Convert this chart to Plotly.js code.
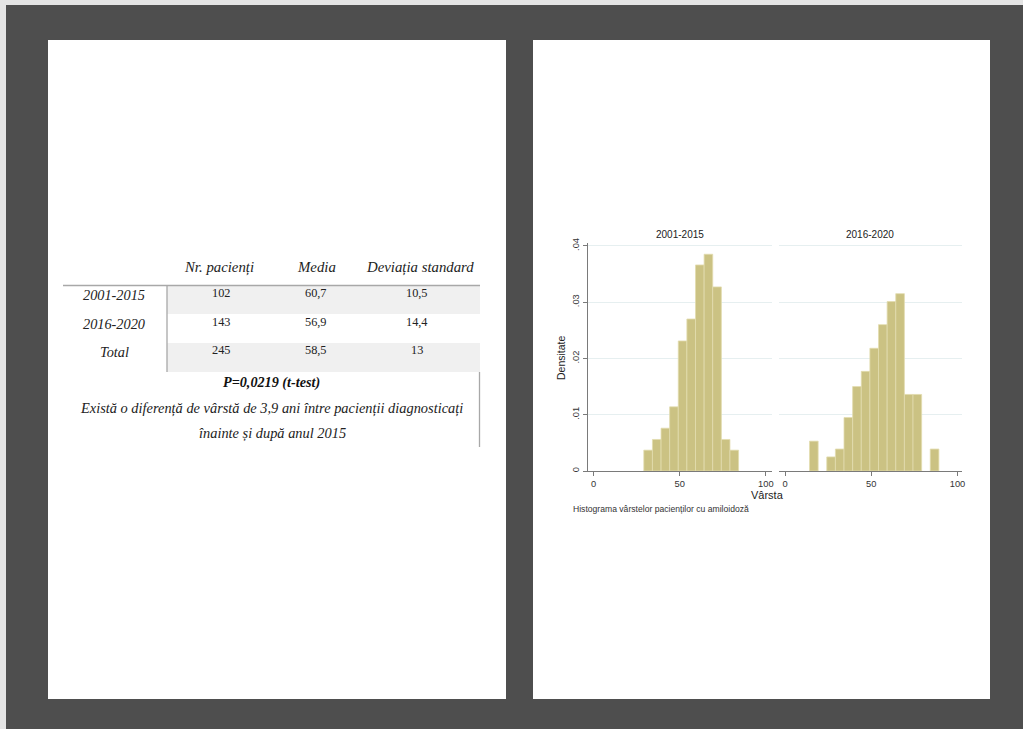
<!DOCTYPE html>
<html><head><meta charset="utf-8">
<script src="https://cdn.plot.ly/plotly-3.0.1.min.js"></script>
<style>html,body{margin:0;padding:0;background:#4e4e4e;overflow:hidden}#chart{width:1023px;height:729px}</style>
</head><body><div id="chart"></div>
<script>
// ---- table data (left page) ----
const tableColumns = ['Nr. pacienți', 'Media', 'Deviația standard'];
const tableRows = ['2001-2015', '2016-2020', 'Total'];
const nrPacienti = ['102', '143', '245'];
const media = ['60,7', '56,9', '58,5'];
const deviatia = ['10,5', '14,4', '13'];
const pText = 'P=0,0219 (t-test)';
const noteLines = ['Există o diferență de vârstă de 3,9 ani între pacienții diagnosticați', 'înainte și după anul 2015'];

// ---- histogram data (right page) ----
const panelTitles = ['2001-2015', '2016-2020'];
const binWidth = 5;
const binStart1 = [29.2, 34.2, 39.2, 44.2, 49.2, 54.2, 59.2, 64.2, 69.2, 74.2, 79.2];
const density1 = [0.0037, 0.0056, 0.0076, 0.0114, 0.0231, 0.0270, 0.0366, 0.0385, 0.0327, 0.0056, 0.0037];
const binStart2 = [14.2, 24.2, 29.2, 34.2, 39.2, 44.2, 49.2, 54.2, 59.2, 64.2, 69.2, 74.2, 84.2];
const density2 = [0.0053, 0.0025, 0.0039, 0.0095, 0.0150, 0.0177, 0.0218, 0.0260, 0.0301, 0.0315, 0.0136, 0.0136, 0.0039];
const yTickVals = [0, 0.01, 0.02, 0.03, 0.04];
const yTickText = ['0', '.01', '.02', '.03', '.04'];
const xTickVals = [0, 50, 100];
const xTickText = ['0', '50', '100'];
const yAxisTitle = 'Densitate';
const xAxisTitle = 'Vârsta';
const caption = 'Histograma vârstelor pacienților cu amiloidoză';

// ---- helpers: pixel -> paper ----
const W = 1023, H = 729;
const X = p => p / W;
const Y = p => 1 - p / H;

const shapes = [];
function rect(x0, y0, x1, y1, color, line) {
  shapes.push({type: 'rect', xref: 'paper', yref: 'paper', x0: X(x0), x1: X(x1), y0: Y(y1), y1: Y(y0),
    fillcolor: color, line: line || {width: 0}, layer: 'below'});
}
function seg(x0, y0, x1, y1, color, w) {
  shapes.push({type: 'line', xref: 'paper', yref: 'paper', x0: X(x0), x1: X(x1), y0: Y(y0), y1: Y(y1),
    line: {color: color, width: w}, layer: 'below'});
}
// background strips and pages
rect(0, 0, W, 5, '#e4e4e4');
rect(0, 0, 6, H, '#e4e4e4');
rect(48, 40, 506, 699, '#ffffff');
rect(533, 40, 990, 699, '#ffffff');

// table shading and lines
rect(167, 286, 480, 314, '#f0f0f0');
rect(167, 343, 480, 372, '#f0f0f0');
seg(63, 285.5, 480, 285.5, '#a8a8a8', 1.3);
seg(167, 286, 167, 372, '#a8a8a8', 1.3);
seg(479.5, 372, 479.5, 447, '#a8a8a8', 1.3);

const annotations = [];
function txt(x, y, t, size, family, color, extra) {
  annotations.push(Object.assign({xref: 'paper', yref: 'paper', x: X(x), y: Y(y), text: t, showarrow: false,
    xanchor: 'center', yanchor: 'middle', font: {size: size, family: family, color: color || '#111'}}, extra || {}));
}
const serif = 'Liberation Serif, Times New Roman, serif';
const sans = 'Liberation Sans, Arial, sans-serif';
const colX = [219, 316, 420];
tableColumns.forEach((c, i) => txt(colX[i], 267, '<i>' + c + '</i>', 14.8, serif, '#222'));
const rowY = [295, 324, 352];
tableRows.forEach((r, i) => txt(114, rowY[i], '<i>' + r + '</i>', 14.3, serif, '#222'));
const valY = [293, 322, 350];
const valX = [221, 316, 417];
[nrPacienti, media, deviatia].forEach((col, j) => col.forEach((v, i) => txt(valX[j], valY[i], v, 12.3, serif, '#222')));
txt(271, 382, '<b><i>' + pText + '</i></b>', 14.2, serif, '#111');
txt(271, 408, '<i>' + noteLines[0] + '</i>', 14.4, serif, '#222');
txt(272, 433, '<i>' + noteLines[1] + '</i>', 14.4, serif, '#222');

// chart text
txt(680, 234, panelTitles[0], 10, sans, '#222');
txt(870, 234, panelTitles[1], 10, sans, '#222');
txt(561, 358, yAxisTitle, 10.5, sans, '#222', {textangle: -90});
txt(767, 495, xAxisTitle, 11, sans, '#222');
txt(571, 509, caption, 8.6, sans, '#333', {xanchor: 'left'});

const barColor = '#cbc283';
const barLine = {color: '#e2dcae', width: 0.8};
const traces = [
  {type: 'bar', x: binStart1, y: density1, width: binWidth, offset: 0, xaxis: 'x', yaxis: 'y',
   marker: {color: barColor, line: barLine}, hoverinfo: 'x+y'},
  {type: 'bar', x: binStart2, y: density2, width: binWidth, offset: 0, xaxis: 'x2', yaxis: 'y2',
   marker: {color: barColor, line: barLine}, hoverinfo: 'x+y'}
];

const axisCommon = {ticks: 'outside', ticklen: 4, tickcolor: '#7a7a7a', showline: true, linecolor: '#7a7a7a', linewidth: 1,
  zeroline: false, tickfont: {size: 9.3, family: sans, color: '#333'}};
const yRange = [0, 0.0405];
const yDomain = [Y(471), Y(243)];
const layout = {
  width: W, height: H, margin: {l: 0, r: 0, t: 0, b: 0},
  paper_bgcolor: '#4e4e4e', plot_bgcolor: 'rgba(0,0,0,0)', showlegend: false, bargap: 0,
  xaxis: Object.assign({}, axisCommon, {domain: [X(588), X(772)], range: [-3.2, 103.6], tickvals: xTickVals, ticktext: xTickText, showgrid: false, anchor: 'y'}),
  xaxis2: Object.assign({}, axisCommon, {domain: [X(779), X(962)], range: [-3.5, 102.6], tickvals: xTickVals, ticktext: xTickText, showgrid: false, anchor: 'y2'}),
  yaxis: Object.assign({}, axisCommon, {domain: yDomain, range: yRange, tickvals: yTickVals, ticktext: yTickText, tickangle: -90,
    showgrid: true, gridcolor: '#e6eff0', gridwidth: 1, anchor: 'x'}),
  yaxis2: {domain: yDomain, range: yRange, tickvals: yTickVals, showticklabels: false, showline: false, ticks: '', zeroline: false,
    showgrid: true, gridcolor: '#e6eff0', gridwidth: 1, anchor: 'x2'},
  shapes: shapes, annotations: annotations
};
Plotly.newPlot('chart', traces, layout, {displayModeBar: false, staticPlot: true});
</script></body></html>
